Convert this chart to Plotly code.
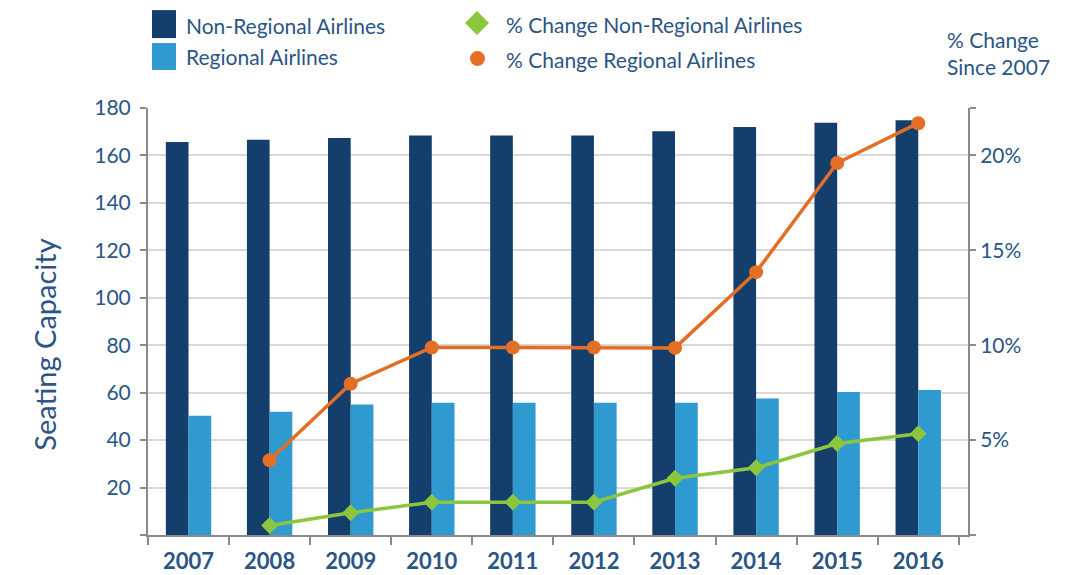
import plotly.graph_objects as go

years = ["2007", "2008", "2009", "2010", "2011", "2012", "2013", "2014", "2015", "2016"]
non_regional = [165.7, 166.6, 167.4, 168.4, 168.4, 168.4, 170.2, 172.0, 173.8, 174.8]
regional = [50.3, 52.0, 55.0, 55.7, 55.7, 55.7, 55.7, 57.5, 60.3, 61.1]
pct_years = ["2008", "2009", "2010", "2011", "2012", "2013", "2014", "2015", "2016"]
pct_non_regional = [0.005, 0.0117, 0.0173, 0.0173, 0.0173, 0.0299, 0.0354, 0.0482, 0.0534]
pct_regional = [0.0394, 0.0797, 0.0988, 0.0988, 0.0988, 0.0986, 0.1385, 0.196, 0.217]

left_ticks = [0, 20, 40, 60, 80, 100, 120, 140, 160, 180]
left_ticktext = ["", "20", "40", "60", "80", "100", "120", "140", "160", "180"]
right_ticks = [0, 0.05, 0.10, 0.15, 0.20, 0.225]
right_ticktext = ["", "5%", "10%", "15%", "20%", ""]

DARK = "#143f6d"
LIGHT = "#2f9ad0"
GREEN = "#8cc63f"
ORANGE = "#e36f26"
TEXT = "#2a5585"
AXIS = "#8a8a8a"
GRID = "#d9d9d9"
FONT = "Lato"

W, H = 1091, 575
L, R, T, B = 148, 968, 108, 535.5

fig = go.Figure()
fig.add_trace(go.Bar(x=years, y=non_regional, name="Non-Regional Airlines",
                     marker=dict(color=DARK, line=dict(width=0)), yaxis="y"))
fig.add_trace(go.Bar(x=years, y=regional, name="Regional Airlines",
                     marker=dict(color=LIGHT, line=dict(width=0)), yaxis="y"))
fig.add_trace(go.Scatter(x=pct_years, y=pct_non_regional, name="% Change Non-Regional Airlines",
                         mode="lines+markers", yaxis="y2",
                         line=dict(color=GREEN, width=3.5),
                         marker=dict(symbol="diamond", size=13, color=GREEN)))
fig.add_trace(go.Scatter(x=pct_years, y=pct_regional, name="% Change Regional Airlines",
                         mode="lines+markers", yaxis="y2",
                         line=dict(color=ORANGE, width=3.5),
                         marker=dict(symbol="circle", size=14, color=ORANGE)))


def px(x):
    return (x - L) / (R - L)


def py(y):
    return (B - y) / (B - T)


shapes = [
    dict(type="rect", xref="paper", yref="paper", x0=px(152), x1=px(176), y0=py(38), y1=py(10),
         fillcolor=DARK, line=dict(width=0), layer="above"),
    dict(type="rect", xref="paper", yref="paper", x0=px(152), x1=px(176), y0=py(70), y1=py(43),
         fillcolor=LIGHT, line=dict(width=0), layer="above"),
    dict(type="path", xref="paper", yref="paper",
         path="M {a},{b} L {c},{d} L {a},{e} L {f},{d} Z".format(
             a=px(477), b=py(11), c=px(489), d=py(23), e=py(35), f=px(465)),
         fillcolor=GREEN, line=dict(width=0), layer="above"),
    dict(type="circle", xref="paper", yref="paper", x0=px(470), x1=px(485), y0=py(66), y1=py(51),
         fillcolor=ORANGE, line=dict(width=0), layer="above"),
]

LEG = dict(size=21, color=TEXT, family=FONT)
annotations = [
    dict(text="Non-Regional Airlines", x=px(184), y=py(25), xref="paper", yref="paper",
         xanchor="left", yanchor="middle", showarrow=False, font=LEG),
    dict(text="Regional Airlines", x=px(184), y=py(56), xref="paper", yref="paper",
         xanchor="left", yanchor="middle", showarrow=False, font=LEG),
    dict(text="% Change Non-Regional Airlines", x=px(504), y=py(24), xref="paper", yref="paper",
         xanchor="left", yanchor="middle", showarrow=False, font=LEG),
    dict(text="% Change Regional Airlines", x=px(504), y=py(59), xref="paper", yref="paper",
         xanchor="left", yanchor="middle", showarrow=False, font=LEG),
    dict(text="% Change<br>Since 2007", x=px(945), y=py(53), xref="paper", yref="paper",
         xanchor="left", yanchor="middle", align="left", showarrow=False, font=LEG),
    dict(text="Seating Capacity", x=px(45), y=py(345), xref="paper", yref="paper",
         xanchor="center", yanchor="middle", textangle=-90, showarrow=False,
         font=dict(size=29, color=TEXT, family=FONT)),
]

fig.update_layout(
    width=W, height=H,
    margin=dict(l=L, r=W - R, t=T, b=H - B, pad=0, autoexpand=False),
    plot_bgcolor="white", paper_bgcolor="white",
    showlegend=False,
    barmode="group", bargap=0.44, bargroupgap=0,
    font=dict(family=FONT, color=TEXT),
    xaxis=dict(
        type="category", showline=True, linecolor=AXIS, linewidth=2,
        ticks="outside", tickson="boundaries", ticklen=8, tickcolor=AXIS, tickwidth=2,
        tickfont=dict(size=22, color=TEXT, family=FONT, weight="bold"),
        ticklabelstandoff=6,
        showgrid=False, zeroline=False, automargin=False,
    ),
    yaxis=dict(
        range=[0, 180], tickvals=left_ticks, ticktext=left_ticktext,
        showline=True, linecolor=AXIS, linewidth=2,
        ticks="outside", ticklen=6, tickcolor=AXIS, tickwidth=2,
        tickfont=dict(size=21, color=TEXT, family=FONT),
        ticklabelstandoff=5,
        showgrid=True, gridcolor=GRID, gridwidth=1.5, zeroline=False, automargin=False,
    ),
    yaxis2=dict(
        overlaying="y", side="right", range=[0, 0.225],
        tickvals=right_ticks, ticktext=right_ticktext,
        showline=True, linecolor=AXIS, linewidth=2,
        ticks="outside", ticklen=6, tickcolor=AXIS, tickwidth=2,
        tickfont=dict(size=21, color=TEXT, family=FONT),
        showgrid=False, zeroline=False, automargin=False,
    ),
    shapes=shapes,
    annotations=annotations,
)

fig.write_html("out.html", config={"displayModeBar": False},
               post_script="document.body.style.margin='0';document.body.style.overflow='hidden';")
